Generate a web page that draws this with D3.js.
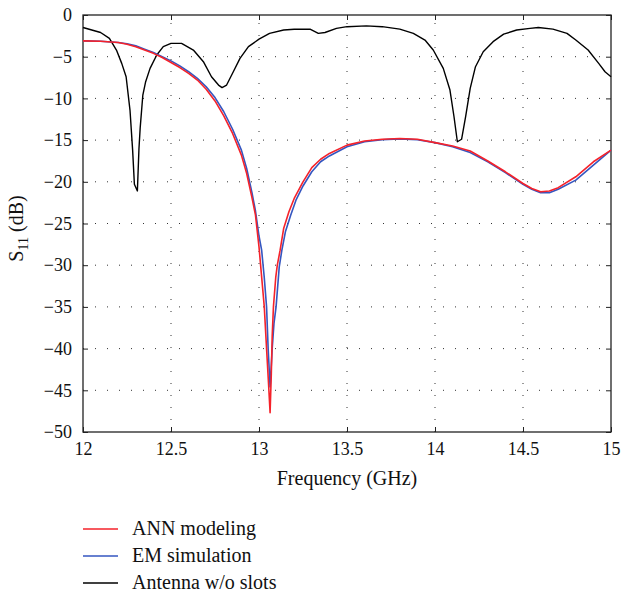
<!DOCTYPE html>
<html>
<head>
<meta charset="utf-8">
<script src="https://cdn.jsdelivr.net/npm/d3@7"></script>
<style>
  body { margin: 0; background: #fff; }
  text { font-family: "Liberation Serif", "DejaVu Serif", serif; fill: #111; }
</style>
</head>
<body>
<script>
// ANN modeling (red)
var annFreq = [12.0, 12.1, 12.2, 12.25, 12.3, 12.35, 12.4, 12.45, 12.5, 12.55, 12.6, 12.65, 12.7, 12.75, 12.8, 12.85, 12.9, 12.93, 12.96, 12.98, 13.0, 13.01, 13.03, 13.043, 13.055, 13.063, 13.07, 13.075, 13.082, 13.095, 13.104, 13.12, 13.14, 13.17, 13.2, 13.25, 13.3, 13.35, 13.4, 13.5, 13.6, 13.7, 13.8, 13.9, 14.0, 14.1, 14.2, 14.3, 14.4, 14.5, 14.55, 14.6, 14.65, 14.7, 14.8, 14.9, 15.0];
var annDb = [-3.1, -3.15, -3.3, -3.5, -3.8, -4.2, -4.6, -5.1, -5.7, -6.3, -7.0, -7.8, -8.9, -10.3, -12.1, -14.2, -16.8, -19.0, -21.9, -24.0, -27.8, -30.2, -35.0, -40.0, -44.5, -47.7, -43.0, -38.5, -35.0, -31.5, -30.0, -28.2, -25.6, -23.6, -22.0, -20.0, -18.3, -17.3, -16.6, -15.6, -15.1, -14.9, -14.8, -14.9, -15.3, -15.7, -16.3, -17.5, -18.8, -20.2, -20.8, -21.2, -21.1, -20.7, -19.4, -17.6, -16.2];

// EM simulation (blue)
var emFreq = [12.0, 12.1, 12.2, 12.25, 12.3, 12.35, 12.4, 12.45, 12.5, 12.55, 12.6, 12.65, 12.7, 12.75, 12.8, 12.85, 12.9, 12.93, 12.96, 12.98, 13.0, 13.015, 13.03, 13.043, 13.052, 13.063, 13.075, 13.085, 13.097, 13.115, 13.13, 13.15, 13.18, 13.21, 13.25, 13.3, 13.35, 13.4, 13.5, 13.6, 13.7, 13.8, 13.9, 14.0, 14.1, 14.2, 14.3, 14.4, 14.5, 14.55, 14.6, 14.65, 14.7, 14.8, 14.9, 15.0];
var emDb = [-3.1, -3.15, -3.3, -3.45, -3.7, -4.1, -4.5, -5.0, -5.5, -6.1, -6.8, -7.6, -8.6, -9.9, -11.6, -13.7, -16.2, -18.4, -21.3, -23.5, -26.5, -28.2, -31.5, -35.0, -40.0, -44.6, -40.0, -37.0, -35.0, -30.2, -28.2, -26.0, -24.0, -22.2, -20.5, -18.8, -17.6, -16.9, -15.8, -15.2, -14.95, -14.85, -14.95, -15.3, -15.8, -16.5, -17.6, -18.9, -20.3, -20.9, -21.3, -21.3, -20.9, -19.8, -18.0, -16.2];

// Antenna w/o slots (black)
var refFreq = [12.0, 12.05, 12.1, 12.15, 12.19, 12.22, 12.245, 12.267, 12.282, 12.292, 12.309, 12.318, 12.325, 12.34, 12.356, 12.381, 12.419, 12.456, 12.5, 12.56, 12.627, 12.684, 12.73, 12.77, 12.79, 12.816, 12.854, 12.892, 12.94, 13.0, 13.06, 13.14, 13.2, 13.29, 13.337, 13.375, 13.44, 13.5, 13.61, 13.7, 13.8, 13.877, 13.943, 13.99, 14.047, 14.085, 14.108, 14.127, 14.151, 14.174, 14.2, 14.23, 14.274, 14.33, 14.39, 14.464, 14.54, 14.587, 14.67, 14.75, 14.8, 14.87, 14.93, 14.966, 15.0];
var refDb = [-1.5, -1.8, -2.1, -2.8, -4.2, -5.8, -7.4, -11.4, -16.2, -20.3, -21.1, -16.0, -13.5, -9.6, -8.0, -6.4, -4.8, -3.8, -3.4, -3.4, -4.2, -5.6, -7.4, -8.4, -8.7, -8.4, -6.8, -5.2, -3.8, -2.9, -2.2, -1.8, -1.7, -1.7, -2.2, -2.1, -1.6, -1.4, -1.3, -1.4, -1.7, -2.2, -3.0, -4.2, -6.4, -9.0, -12.2, -15.2, -14.9, -12.2, -8.8, -6.2, -4.4, -3.2, -2.3, -1.8, -1.6, -1.5, -1.7, -2.2, -3.0, -4.2, -5.8, -6.8, -7.4];

var xTicks = [12, 12.5, 13, 13.5, 14, 14.5, 15];
var yTicks = [0, -5, -10, -15, -20, -25, -30, -35, -40, -45, -50];
var seriesNames = ["ANN modeling", "EM simulation", "Antenna w/o slots"];
var seriesColors = ["#f5222a", "#3556c0", "#000000"];

var W = 623, H = 595;
var pLeft = 83, pTop = 15, pRight = 611, pBottom = 432;

var svg = d3.select('body').append('svg').attr('width', W).attr('height', H);

var x = d3.scaleLinear().domain([12, 15]).range([pLeft, pRight]);
var y = d3.scaleLinear().domain([-50, 0]).range([pBottom, pTop]);

function fmt(v) { return String(v).replace('-', '\u2212'); }

// dotted grid
var grid = svg.append('g');
grid.selectAll('line.gx').data(xTicks.slice(1, -1)).enter().append('line')
  .attr('x1', function(d) { return x(d); }).attr('x2', function(d) { return x(d); })
  .attr('y1', pBottom).attr('y2', pTop)
  .attr('stroke', '#333').attr('stroke-width', 1).attr('stroke-dasharray', '1,11');
grid.selectAll('line.gy').data(yTicks.slice(1, -1)).enter().append('line')
  .attr('y1', function(d) { return y(d); }).attr('y2', function(d) { return y(d); })
  .attr('x1', pLeft).attr('x2', pRight)
  .attr('stroke', '#333').attr('stroke-width', 1).attr('stroke-dasharray', '1,11');

// axes with inward ticks
svg.append('g').attr('transform', 'translate(0,' + pBottom + ')')
  .call(d3.axisBottom(x).tickValues(xTicks).tickSizeInner(-5).tickSizeOuter(0).tickPadding(10).tickFormat(fmt))
  .call(function(g) { g.selectAll('text').attr('font-size', 18).attr('fill', '#111'); });
svg.append('g').attr('transform', 'translate(0,' + pTop + ')')
  .call(d3.axisTop(x).tickValues(xTicks).tickSizeInner(-5).tickSizeOuter(0).tickFormat(''));
svg.append('g').attr('transform', 'translate(' + pLeft + ',0)')
  .call(d3.axisLeft(y).tickValues(yTicks).tickSizeInner(-5).tickSizeOuter(0).tickPadding(11).tickFormat(fmt))
  .call(function(g) { g.selectAll('text').attr('font-size', 18).attr('fill', '#111'); });
svg.append('g').attr('transform', 'translate(' + pRight + ',0)')
  .call(d3.axisRight(y).tickValues(yTicks).tickSizeInner(-5).tickSizeOuter(0).tickFormat(''));
svg.selectAll('.domain').remove();
svg.selectAll('.tick line').attr('stroke', '#222');

svg.append('rect').attr('x', pLeft).attr('y', pTop)
  .attr('width', pRight - pLeft).attr('height', pBottom - pTop)
  .attr('fill', 'none').attr('stroke', '#222').attr('stroke-width', 1.3);

// curves
var line = d3.line()
  .x(function(d) { return x(d[0]); })
  .y(function(d) { return y(d[1]); });

var series = [
  d3.zip(annFreq, annDb),
  d3.zip(emFreq, emDb),
  d3.zip(refFreq, refDb)
];
var order = [2, 1, 0];
order.forEach(function(i) {
  svg.append('path').datum(series[i])
    .attr('d', line)
    .attr('fill', 'none')
    .attr('stroke', seriesColors[i])
    .attr('stroke-width', i == 2 ? 1.4 : 1.6)
    .attr('stroke-linejoin', 'round');
});

// axis titles
svg.append('text').attr('x', (pLeft + pRight) / 2).attr('y', 485)
  .attr('text-anchor', 'middle').attr('font-size', 20).text('Frequency (GHz)');

var yl = svg.append('text')
  .attr('transform', 'translate(23,' + ((pTop + pBottom) / 2 + 5) + ') rotate(-90)')
  .attr('text-anchor', 'middle').attr('font-size', 20);
yl.append('tspan').text('S');
yl.append('tspan').attr('font-size', 14).attr('dy', 5).text('11');
yl.append('tspan').attr('dy', -5).text(' (dB)');

// legend
var leg = svg.append('g');
seriesNames.forEach(function(name, i) {
  var yy = 529 + i * 27;
  leg.append('line').attr('x1', 83).attr('x2', 118).attr('y1', yy).attr('y2', yy)
    .attr('stroke', seriesColors[i]).attr('stroke-width', 1.5);
  leg.append('text').attr('x', 132).attr('y', yy + 6).attr('font-size', 20).text(name);
});
</script>
</body>
</html>
